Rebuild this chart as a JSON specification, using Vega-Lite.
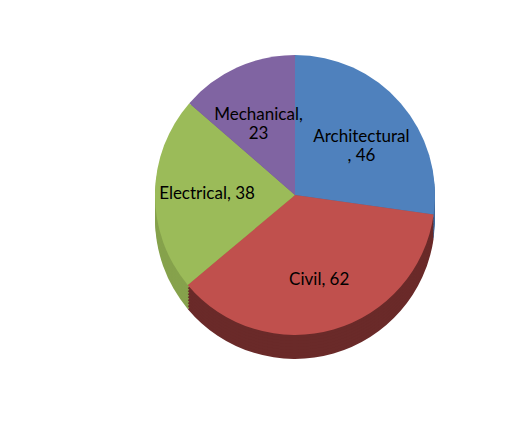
{
  "$schema": "https://vega.github.io/schema/vega-lite/v6.json",
  "width": 470,
  "height": 380,
  "autosize": {"type": "none"},
  "padding": {"left": 60, "top": 5, "right": 0, "bottom": 45},
  "background": "white",
  "config": {"view": {"stroke": null}},
  "data": {
    "values": [
      {"category": "Architectural", "value": 46, "label": "Architectural\n, 46"},
      {"category": "Civil", "value": 62, "label": "Civil, 62"},
      {"category": "Electrical", "value": 38, "label": "Electrical, 38"},
      {"category": "Mechanical", "value": 23, "label": "Mechanical,\n23"}
    ]
  },
  "encoding": {
    "theta": {"field": "value", "type": "quantitative", "stack": true},
    "order": {"field": "category", "sort": "ascending"}
  },
  "layer": [
    {"mark": {"type": "arc", "outerRadius": 140, "yOffset": 24},
      "encoding": {"color": {"field": "category", "type": "nominal", "legend": null,
        "scale": {"domain": ["Architectural", "Civil", "Electrical", "Mechanical"], "range": ["#3f6a9e", "#6a2a29", "#86a24c", "#6a538a"]}}}},
    {"mark": {"type": "arc", "outerRadius": 140, "yOffset": 21},
      "encoding": {"color": {"field": "category", "type": "nominal", "legend": null,
        "scale": {"domain": ["Architectural", "Civil", "Electrical", "Mechanical"], "range": ["#3f6a9e", "#6a2a29", "#86a24c", "#6a538a"]}}}},
    {"mark": {"type": "arc", "outerRadius": 140, "yOffset": 18},
      "encoding": {"color": {"field": "category", "type": "nominal", "legend": null,
        "scale": {"domain": ["Architectural", "Civil", "Electrical", "Mechanical"], "range": ["#3f6a9e", "#6a2a29", "#86a24c", "#6a538a"]}}}},
    {"mark": {"type": "arc", "outerRadius": 140, "yOffset": 15},
      "encoding": {"color": {"field": "category", "type": "nominal", "legend": null,
        "scale": {"domain": ["Architectural", "Civil", "Electrical", "Mechanical"], "range": ["#3f6a9e", "#6a2a29", "#86a24c", "#6a538a"]}}}},
    {"mark": {"type": "arc", "outerRadius": 140, "yOffset": 12},
      "encoding": {"color": {"field": "category", "type": "nominal", "legend": null,
        "scale": {"domain": ["Architectural", "Civil", "Electrical", "Mechanical"], "range": ["#3f6a9e", "#6a2a29", "#86a24c", "#6a538a"]}}}},
    {"mark": {"type": "arc", "outerRadius": 140, "yOffset": 9},
      "encoding": {"color": {"field": "category", "type": "nominal", "legend": null,
        "scale": {"domain": ["Architectural", "Civil", "Electrical", "Mechanical"], "range": ["#3f6a9e", "#6a2a29", "#86a24c", "#6a538a"]}}}},
    {"mark": {"type": "arc", "outerRadius": 140, "yOffset": 6},
      "encoding": {"color": {"field": "category", "type": "nominal", "legend": null,
        "scale": {"domain": ["Architectural", "Civil", "Electrical", "Mechanical"], "range": ["#3f6a9e", "#6a2a29", "#86a24c", "#6a538a"]}}}},
    {"mark": {"type": "arc", "outerRadius": 140, "yOffset": 3},
      "encoding": {"color": {"field": "category", "type": "nominal", "legend": null,
        "scale": {"domain": ["Architectural", "Civil", "Electrical", "Mechanical"], "range": ["#3f6a9e", "#6a2a29", "#86a24c", "#6a538a"]}}}},
    {"mark": {"type": "arc", "outerRadius": 140},
      "encoding": {"color": {"field": "category", "type": "nominal", "legend": null,
        "scale": {"domain": ["Architectural", "Civil", "Electrical", "Mechanical"], "range": ["#4F81BD", "#C0504D", "#9BBB59", "#8064A2"]}}}},
    {"mark": {"type": "text", "radius": 88, "font": "Lato", "fontSize": 17, "lineBreak": "\n", "color": "black"},
      "encoding": {"text": {"field": "label", "type": "nominal"}}}
  ],
  "resolve": {"scale": {"color": "independent"}}
}
